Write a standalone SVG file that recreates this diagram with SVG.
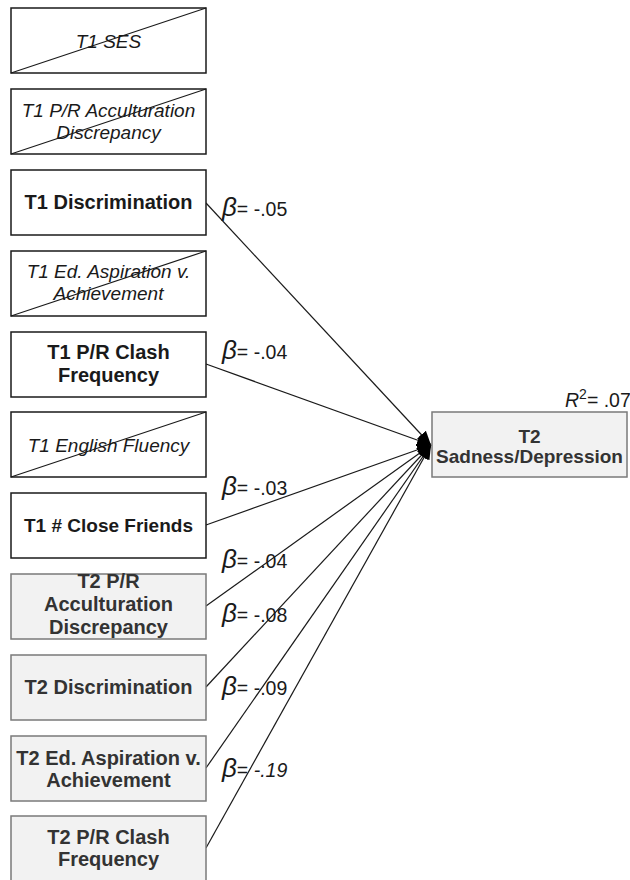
<svg xmlns="http://www.w3.org/2000/svg" width="630" height="880" viewBox="0 0 630 880">
<defs>
<style>
.t1{fill:#ffffff;stroke:#1a1a1a;stroke-width:1.5}
.t2{fill:#f2f2f2;stroke:#7a7a7a;stroke-width:1.5}
.x{stroke:#1a1a1a;stroke-width:1.2;fill:none}
.lb{font-family:"Liberation Sans",Arial,sans-serif;font-size:19px;text-anchor:middle;fill:#1a1a1a}
.b{font-weight:bold;font-size:20px}
.i{font-style:italic}
.g{fill:#333333}
.tg{font-size:19px}
.beta{font-family:"Liberation Sans",Arial,sans-serif;font-size:19.5px;fill:#1a1a1a}
.bs{font-size:26px;font-style:italic}
.edge{stroke:#1a1a1a;stroke-width:1.2;fill:none;marker-end:url(#ah)}
</style>
<marker id="ah" markerUnits="userSpaceOnUse" markerWidth="16" markerHeight="14" refX="14" refY="6" orient="auto">
<path d="M0,0 L14,6 L0,12 Z" fill="#000"/>
</marker>
</defs>
<rect width="630" height="880" fill="#ffffff"/>

<g id="connectors">
<line class="edge" x1="206" y1="203" x2="431" y2="445"/>
<line class="edge" x1="206" y1="364" x2="431" y2="445"/>
<line class="edge" x1="206" y1="525" x2="431" y2="445"/>
<line class="edge" x1="206" y1="606" x2="431" y2="445"/>
<line class="edge" x1="206" y1="687" x2="431" y2="445"/>
<line class="edge" x1="206" y1="768" x2="431" y2="445"/>
<line class="edge" x1="206" y1="848" x2="431" y2="445"/>
</g>

<g id="t1-ses">
<rect class="t1" x="11" y="8" width="195" height="65"/>
<text class="lb i" x="108.5" y="48">T1 SES</text>
<line class="x" x1="11" y1="73" x2="206" y2="8"/>
</g>
<g id="t1-acc">
<rect class="t1" x="11" y="89" width="195" height="65"/>
<text class="lb i" x="108.5" y="117">T1 P/R Acculturation</text>
<text class="lb i" x="108.5" y="139">Discrepancy</text>
<line class="x" x1="11" y1="154" x2="206" y2="89"/>
</g>
<g id="t1-disc">
<rect class="t1" x="11" y="170" width="195" height="65"/>
<text class="lb b" x="108.5" y="209">T1 Discrimination</text>
</g>
<g id="t1-ed">
<rect class="t1" x="11" y="251" width="195" height="65"/>
<text class="lb i" x="108.5" y="278">T1 Ed. Aspiration v.</text>
<text class="lb i" x="108.5" y="300">Achievement</text>
<line class="x" x1="11" y1="316" x2="206" y2="251"/>
</g>
<g id="t1-clash">
<rect class="t1" x="11" y="332" width="195" height="65"/>
<text class="lb b" x="108.5" y="359">T1 P/R Clash</text>
<text class="lb b" x="108.5" y="382">Frequency</text>
</g>
<g id="t1-eng">
<rect class="t1" x="11" y="412" width="195" height="65"/>
<text class="lb i" x="108.5" y="452">T1 English Fluency</text>
<line class="x" x1="11" y1="477" x2="206" y2="412"/>
</g>
<g id="t1-friends">
<rect class="t1" x="11" y="493" width="195" height="65"/>
<text class="lb b tg" x="108.5" y="532">T1 # Close Friends</text>
</g>
<g id="t2-acc">
<rect class="t2" x="11" y="574" width="195" height="65"/>
<text class="lb b g" x="108.5" y="588">T2 P/R</text>
<text class="lb b g" x="108.5" y="611">Acculturation</text>
<text class="lb b g" x="108.5" y="634">Discrepancy</text>
</g>
<g id="t2-disc">
<rect class="t2" x="11" y="655" width="195" height="65"/>
<text class="lb b g" x="108.5" y="694">T2 Discrimination</text>
</g>
<g id="t2-ed">
<rect class="t2" x="11" y="736" width="195" height="65"/>
<text class="lb b g" x="108.5" y="765">T2 Ed. Aspiration v.</text>
<text class="lb b g" x="108.5" y="787">Achievement</text>
</g>
<g id="t2-clash">
<rect class="t2" x="11" y="816" width="195" height="65"/>
<text class="lb b g" x="108.5" y="844">T2 P/R Clash</text>
<text class="lb b g" x="108.5" y="866">Frequency</text>
</g>

<g id="t2-sad">
<rect class="t2" x="432" y="412" width="195" height="65"/>
<text class="lb b g tg" x="529.5" y="443">T2</text>
<text class="lb b g tg" x="529.5" y="463">Sadness/Depression</text>
</g>

<g id="labels">
<text class="beta" x="222" y="216"><tspan class="bs">β</tspan>= -.05</text>
<text class="beta" x="222" y="359"><tspan class="bs">β</tspan>= -.04</text>
<text class="beta" x="222" y="495"><tspan class="bs">β</tspan>= -.03</text>
<text class="beta" x="222" y="568"><tspan class="bs">β</tspan>= -.04</text>
<text class="beta" x="222" y="622"><tspan class="bs">β</tspan>= -.08</text>
<text class="beta" x="222" y="695"><tspan class="bs">β</tspan>= -.09</text>
<text class="beta" x="222" y="777"><tspan class="bs">β</tspan>= <tspan font-style="italic">-.19</tspan></text>
<text class="beta" x="565" y="407"><tspan font-style="italic">R</tspan><tspan font-size="14" dy="-8">2</tspan><tspan dy="8">= .07</tspan></text>
</g>
</svg>
